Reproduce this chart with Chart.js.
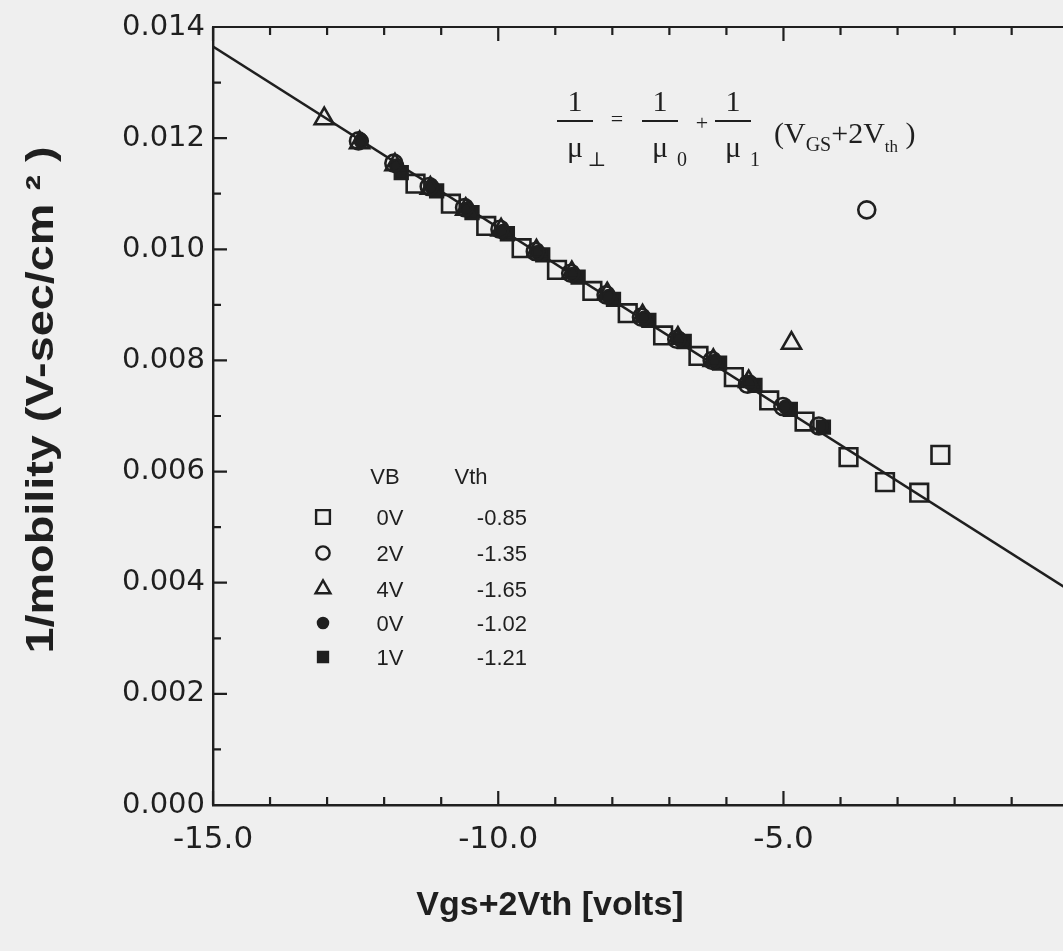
<!DOCTYPE html>
<html>
<head>
<meta charset="utf-8">
<title>1/mobility vs Vgs+2Vth</title>
<script src="https://cdn.jsdelivr.net/npm/chart.js@4.4.1/dist/chart.umd.min.js"></script>
<style>
  html, body { margin: 0; padding: 0; background: #efefef; overflow: hidden; }
  #chart { display: block; }
</style>
</head>
<body>
<canvas id="chart" width="1063" height="951"></canvas>
<script>
// colours and fonts
const INK = '#1f1f1f';
const SANS = "'Liberation Sans', Arial, sans-serif";
const WIDE = "'DejaVu Sans', sans-serif";
const SERIF = "'Liberation Serif', 'DejaVu Serif', serif";

// VB = 0V, Vth = -0.85 (open squares)
const sqOpenX = [-11.45, -10.83, -10.21, -9.59, -8.97, -8.35, -7.73, -7.11, -6.49, -5.87, -5.25, -4.63, -3.86, -3.22, -2.62, -2.25];
const sqOpenY = [0.01118, 0.01082, 0.01042, 0.01002, 0.00963, 0.00925, 0.00885, 0.00845, 0.00808, 0.00770, 0.00728, 0.00690, 0.00626, 0.00581, 0.00562, 0.00630];

// VB = 2V, Vth = -1.35 (open circles)
const circOpenX = [-12.45, -11.83, -11.21, -10.59, -9.97, -9.35, -8.73, -8.11, -7.49, -6.87, -6.25, -5.63, -5.01, -4.38, -3.54];
const circOpenY = [0.01195, 0.01155, 0.01113, 0.01075, 0.01036, 0.00996, 0.00957, 0.00918, 0.00878, 0.00838, 0.00800, 0.00757, 0.00717, 0.00682, 0.01071];

// VB = 4V, Vth = -1.65 (open triangles)
const triX = [-13.05, -12.43, -11.81, -11.19, -10.57, -9.95, -9.33, -8.71, -8.09, -7.47, -6.85, -6.23, -5.61, -4.86];
const triY = [0.01235, 0.01192, 0.01152, 0.01110, 0.01072, 0.01035, 0.00997, 0.00958, 0.00920, 0.00880, 0.00840, 0.00800, 0.00762, 0.00831];

// VB = 0V, Vth = -1.02 (filled circles)
const dotX = [-12.40, -11.78, -11.16, -10.54, -9.92, -9.30, -8.68, -8.06, -7.44, -6.82, -6.20, -5.58, -4.96];
const dotY = [0.01195, 0.01150, 0.01112, 0.01072, 0.01032, 0.00994, 0.00955, 0.00915, 0.00876, 0.00838, 0.00798, 0.00760, 0.00716];

// VB = 1V, Vth = -1.21 (filled squares)
const sqFillX = [-11.70, -11.08, -10.46, -9.84, -9.22, -8.60, -7.98, -7.36, -6.74, -6.12, -5.50, -4.88, -4.30];
const sqFillY = [0.01138, 0.01105, 0.01066, 0.01028, 0.00990, 0.00950, 0.00910, 0.00872, 0.00834, 0.00795, 0.00755, 0.00712, 0.00680];

// fitted straight line 1/mu = 1/mu0 + (Vgs+2Vth)/mu1
const fitX = [-15, 0];
const fitY = [0.01365, 0.00387];

// axis ticks
const xMajor = [-15, -10, -5];
const xMinor = [-14, -13, -12, -11, -9, -8, -7, -6, -4, -3, -2, -1];
const yMajor = [0, 0.002, 0.004, 0.006, 0.008, 0.010, 0.012, 0.014];
const yMinor = [0.001, 0.003, 0.005, 0.007, 0.009, 0.011, 0.013];

// axis titles
const xTitle = 'Vgs+2Vth [volts]';
const yTitle = '1/mobility (V-sec/cm ² )';

// key
const keyHead = ['VB', 'Vth'];
const keyBias = ['0V', '2V', '4V', '0V', '1V'];
const keyVth = ['-0.85', '-1.35', '-1.65', '-1.02', '-1.21'];

const pts = (xs, ys) => xs.map((x, i) => ({ x: x, y: ys[i] }));

// marker look for each series, shared by plot and key
const markers = [
    { style: 'rect', radius: 12.5, filled: false },
    { style: 'circle', radius: 8.5, filled: false },
    { style: 'triangle', radius: 11, filled: false },
    { style: 'circle', radius: 6.5, filled: true },
    { style: 'rect', radius: 9, filled: true }
];

function markerSet(label, xs, ys, m) {
    return {
        type: 'scatter',
        label: label,
        data: pts(xs, ys),
        pointStyle: m.style,
        pointRadius: m.radius,
        pointHoverRadius: m.radius,
        pointBorderWidth: 2.6,
        pointBorderColor: INK,
        pointBackgroundColor: m.filled ? INK : 'rgba(0,0,0,0)',
        showLine: false,
        order: 1
    };
}

// inward tick marks, top frame, titles, key and equation
const decorations = {
    id: 'decorations',
    afterDatasetsDraw(chart) {
        const { ctx, chartArea: a, scales: { x, y } } = chart;
        ctx.save();
        ctx.strokeStyle = INK;
        ctx.lineWidth = 2.2;
        ctx.beginPath();
        ctx.moveTo(a.left, a.top);
        ctx.lineTo(a.right, a.top);
        xMajor.concat(xMinor).forEach(v => {
            const px = x.getPixelForValue(v);
            const len = xMajor.includes(v) ? 14 : 8;
            ctx.moveTo(px, a.bottom);
            ctx.lineTo(px, a.bottom - len);
            ctx.moveTo(px, a.top);
            ctx.lineTo(px, a.top + len);
        });
        yMajor.concat(yMinor).forEach(v => {
            const py = y.getPixelForValue(v);
            const len = yMajor.includes(v) ? 14 : 8;
            ctx.moveTo(a.left, py);
            ctx.lineTo(a.left + len, py);
        });
        ctx.stroke();
        ctx.restore();
    },
    afterDraw(chart) {
        const { ctx } = chart;
        ctx.save();
        ctx.fillStyle = INK;
        ctx.strokeStyle = INK;

        // axis titles
        ctx.textAlign = 'center';
        ctx.textBaseline = 'middle';
        ctx.font = 'bold 34px ' + SANS;
        ctx.fillText(xTitle, 550, 906);
        ctx.save();
        ctx.translate(42, 400);
        ctx.rotate(-Math.PI / 2);
        ctx.scale(1.2, 1);
        ctx.font = 'bold 39px ' + SANS;
        ctx.fillText(yTitle, 0, 0);
        ctx.restore();

        // key
        ctx.font = '22px ' + SANS;
        ctx.textAlign = 'center';
        ctx.fillText(keyHead[0], 385, 478);
        ctx.fillText(keyHead[1], 471, 478);
        const rowY = [517, 553, 589, 623, 657];
        keyBias.forEach((b, i) => {
            const m = markers[i];
            ctx.fillStyle = m.filled ? INK : 'rgba(0,0,0,0)';
            ctx.lineWidth = 2.4;
            Chart.helpers.drawPoint(ctx, { pointStyle: m.style, radius: m.radius * 0.78, borderWidth: 2.4 }, 323, rowY[i]);
            ctx.fillStyle = INK;
            ctx.textAlign = 'center';
            ctx.fillText(b, 390, rowY[i] + 2);
            ctx.textAlign = 'right';
            ctx.fillText(keyVth[i], 527, rowY[i] + 2);
        });

        // equation in serif type
        ctx.textAlign = 'center';
        ctx.textBaseline = 'alphabetic';
        ctx.lineWidth = 2;
        const fracs = [[575, '\u22a5'], [660, '0'], [733, '1']];
        fracs.forEach(([cx, sub]) => {
            ctx.font = '30px ' + SERIF;
            ctx.fillText('1', cx, 111);
            ctx.beginPath();
            ctx.moveTo(cx - 18, 121);
            ctx.lineTo(cx + 18, 121);
            ctx.stroke();
            ctx.fillText('\u03bc', cx, 157);
            ctx.font = '20px ' + SERIF;
            ctx.fillText(sub, cx + 22, 166);
        });
        ctx.font = '22px ' + SERIF;
        ctx.fillText('=', 617, 126);
        ctx.fillText('+', 702, 130);
        ctx.textAlign = 'left';
        let tx = 774;
        const pieces = [['(V', 30, 143], ['GS', 20, 151], ['+2V', 30, 143], ['th', 17, 152], [' )', 30, 143]];
        pieces.forEach(([t, size, base]) => {
            ctx.font = size + 'px ' + SERIF;
            ctx.fillText(t, tx, base);
            tx += ctx.measureText(t).width;
        });
        ctx.restore();
    }
};

new Chart(document.getElementById('chart').getContext('2d'), {
    data: {
        datasets: [
            {
                type: 'line',
                label: 'fit',
                data: pts(fitX, fitY),
                borderColor: INK,
                borderWidth: 2.5,
                pointRadius: 0,
                tension: 0,
                order: 10
            },
            markerSet('0V -0.85', sqOpenX, sqOpenY, markers[0]),
            markerSet('2V -1.35', circOpenX, circOpenY, markers[1]),
            markerSet('4V -1.65', triX, triY, markers[2]),
            markerSet('0V -1.02', dotX, dotY, markers[3]),
            markerSet('1V -1.21', sqFillX, sqFillY, markers[4])
        ]
    },
    options: {
        responsive: false,
        animation: false,
        events: [],
        layout: { autoPadding: false, padding: { top: 27, right: 0, bottom: 0, left: 0 } },
        plugins: {
            legend: { display: false },
            tooltip: { enabled: false }
        },
        scales: {
            x: {
                type: 'linear',
                min: -15,
                max: -0.1,
                afterBuildTicks: s => { s.ticks = xMajor.map(v => ({ value: v })); },
                afterFit: s => {
                    s.height = 146;
                    s.paddingLeft = 0;
                    s.paddingRight = 0;
                },
                grid: { display: false, drawTicks: false },
                border: { display: true, color: INK, width: 2.4 },
                ticks: {
                    color: INK,
                    font: { family: WIDE, size: 31 },
                    padding: 16,
                    maxRotation: 0,
                    callback: v => v.toFixed(1)
                }
            },
            y: {
                type: 'linear',
                min: 0,
                max: 0.014,
                afterBuildTicks: s => { s.ticks = yMajor.map(v => ({ value: v })); },
                afterFit: s => { s.width = 213; },
                grid: { display: false, drawTicks: false },
                border: { display: true, color: INK, width: 2.4 },
                ticks: {
                    color: INK,
                    font: { family: WIDE, size: 29 },
                    padding: 8,
                    callback: v => v.toFixed(3)
                }
            }
        }
    },
    plugins: [decorations]
});
</script>
</body>
</html>
